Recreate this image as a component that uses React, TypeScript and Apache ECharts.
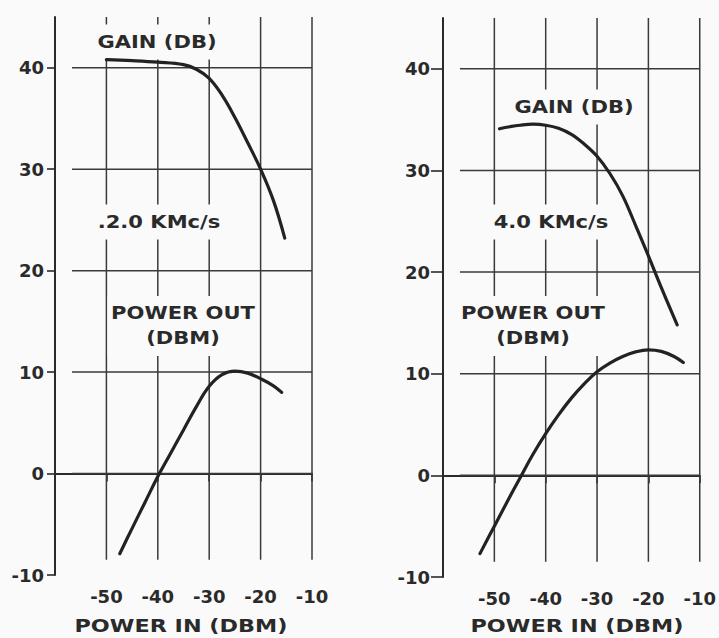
import React, { useEffect, useRef } from "react";
import * as echarts from "echarts";

// ---- data ----
const xTicks = [-50, -40, -30, -20, -10];
const yTicks = [-10, 0, 10, 20, 30, 40];
const xTickLabels = ["-50", "-40", "-30", "-20", "-10"];
const yTickLabels = ["-10", "0", "10", "20", "30", "40"];

// 2.0 KMc/s panel
const gain2: [number, number][] = [
  [-50, 40.8], [-45, 40.7], [-40, 40.55], [-35, 40.3], [-32.5, 39.85],
  [-30, 38.95], [-27.5, 37.3], [-25, 35.1], [-22.5, 32.6], [-20, 30.0],
  [-17.5, 26.9], [-15.3, 23.2],
];
const power2: [number, number][] = [
  [-47.4, -7.9], [-45, -5.4], [-42.5, -2.85], [-40, -0.3], [-37.5, 2.0],
  [-35, 4.3], [-32.5, 6.6], [-30, 8.6], [-27.5, 9.75], [-25, 10.1],
  [-22.5, 9.9], [-20, 9.35], [-17.5, 8.65], [-15.9, 8.0],
];

// 4.0 KMc/s panel
const gain4: [number, number][] = [
  [-49, 34.1], [-47, 34.3], [-45, 34.45], [-42.5, 34.55], [-40, 34.45],
  [-37.5, 34.15], [-35, 33.55], [-32.5, 32.6], [-30, 31.4], [-27.5, 29.7],
  [-25, 27.5], [-22.5, 24.6], [-20, 21.6], [-17.5, 18.5], [-14.4, 14.8],
];
const power4: [number, number][] = [
  [-52.8, -7.7], [-50, -5.0], [-47.5, -2.6], [-45, -0.25], [-42.5, 2.05],
  [-40, 4.1], [-37.5, 5.95], [-35, 7.6], [-32.5, 9.0], [-30, 10.2],
  [-27.5, 11.05], [-25, 11.7], [-22.5, 12.15], [-20, 12.35], [-17.5, 12.2],
  [-15, 11.7], [-13.2, 11.1],
];

const xTitle = "POWER IN (DBM)";
const gainLabel = "GAIN (DB)";
const powerLabel = "POWER OUT\n(DBM)";
const freq2 = ".2.0 KMc/s";
const freq4 = "4.0 KMc/s";

// ---- style constants ----
const X_MIN = -60;
const X_MAX = -10;
const Y_MIN = -10;
const Y_MAX = 45;
const H_START = -56.7; // horizontal grid lines start a bit right of the axis
const V_END = -8.5; // vertical grid lines stop a bit above the axis
const BG = "#fafafa";
const INK = "#2a2a2a";
const GRID = "#3a3a3a";
const FONT = "DejaVu Sans";

function makeAxes(idx: number, yLabelMargin: number, yTickLen: number) {
  const xAxis = {
    type: "value",
    gridIndex: idx,
    min: X_MIN,
    max: X_MAX,
    interval: 10,
    splitLine: { show: false },
    axisLine: { show: true, lineStyle: { color: INK, width: 2 } },
    axisTick: {
      show: true,
      customValues: xTicks,
      length: 8,
      lineStyle: { color: INK, width: 1.6 },
    },
    axisLabel: {
      customValues: xTicks,
      margin: 12,
      color: INK,
      fontFamily: FONT,
      fontWeight: "bold",
      fontSize: 18,
      formatter: (v: number) => {
        const i = xTicks.indexOf(v);
        return i >= 0 ? xTickLabels[i] : "";
      },
    },
  };
  const yAxis = {
    type: "value",
    gridIndex: idx,
    min: Y_MIN,
    max: Y_MAX,
    interval: 10,
    splitLine: { show: false },
    axisLine: { show: true, lineStyle: { color: INK, width: 2 } },
    axisTick: {
      show: true,
      customValues: yTicks,
      length: yTickLen,
      lineStyle: { color: INK, width: 1.6 },
    },
    axisLabel: {
      customValues: yTicks,
      margin: yLabelMargin,
      color: INK,
      fontFamily: FONT,
      fontWeight: "bold",
      fontSize: 18,
      formatter: (v: number) => {
        const i = yTicks.indexOf(v);
        return i >= 0 ? yTickLabels[i] : "";
      },
    },
  };
  return { xAxis, yAxis };
}

function gridLineSeries(idx: number) {
  const out: any[] = [];
  const base = {
    type: "line",
    xAxisIndex: idx,
    yAxisIndex: idx,
    symbol: "none",
    silent: true,
    z: 1,
    lineStyle: { color: GRID, width: 1.5 },
  };
  yTicks
    .filter((v) => v > Y_MIN)
    .forEach((v) => {
      out.push({ ...base, data: [[H_START, v], [X_MAX, v]] });
    });
  xTicks.forEach((v) => {
    out.push({ ...base, data: [[v, Y_MAX], [v, V_END]] });
  });
  return out;
}

function curve(idx: number, name: string, data: [number, number][]) {
  return {
    type: "line",
    name,
    xAxisIndex: idx,
    yAxisIndex: idx,
    data,
    smooth: 0.4,
    symbol: "none",
    silent: true,
    z: 10,
    lineStyle: { color: "#222", width: 3.2, cap: "round", join: "round" },
  };
}

function label(
  text: string,
  x: number,
  y: number,
  opts: { size?: number; scaleX?: number; lineHeight?: number; bg?: boolean; pad?: number[] } = {}
) {
  const { size = 18, scaleX = 1.17, lineHeight = 25, bg = true, pad = [5, 3] } = opts;
  return {
    type: "text",
    x,
    y,
    scaleX,
    z: 5,
    style: {
      text,
      fill: INK,
      fontFamily: FONT,
      fontWeight: "bold",
      fontSize: size,
      lineHeight,
      align: "center",
      verticalAlign: "middle",
      backgroundColor: bg ? BG : "transparent",
      padding: pad,
    },
  };
}

export default function App() {
  const ref = useRef<HTMLDivElement>(null);

  useEffect(() => {
    document.body.style.margin = "0";
    if (!ref.current) return;
    const chart = echarts.init(ref.current, undefined, { renderer: "svg" });
    const a0 = makeAxes(0, 11, 8);
    const a1 = makeAxes(1, 13, 12);
    chart.setOption({
      animation: false,
      backgroundColor: BG,
      grid: [
        { left: 55, top: 17, width: 257, height: 558 },
        { left: 443, top: 18, width: 257, height: 559 },
      ],
      xAxis: [a0.xAxis, a1.xAxis],
      yAxis: [a0.yAxis, a1.yAxis],
      series: [
        ...gridLineSeries(0),
        ...gridLineSeries(1),
        curve(0, "Gain 2.0", gain2),
        curve(0, "Power out 2.0", power2),
        curve(1, "Gain 4.0", gain4),
        curve(1, "Power out 4.0", power4),
      ],
      graphic: [
        label(gainLabel, 157, 42),
        label(freq2, 159, 222),
        label(powerLabel, 183, 326),
        label(gainLabel, 574, 107),
        label(freq4, 551, 222),
        label(powerLabel, 533, 326),
        label(xTitle, 181, 626, { scaleX: 1.24, lineHeight: 20, bg: false, pad: [0, 0] }),
        label(xTitle, 577, 626, { scaleX: 1.24, lineHeight: 20, bg: false, pad: [0, 0] }),
      ],
    });
    return () => chart.dispose();
  }, []);

  return <div ref={ref} style={{ width: 719, height: 638 }} />;
}
